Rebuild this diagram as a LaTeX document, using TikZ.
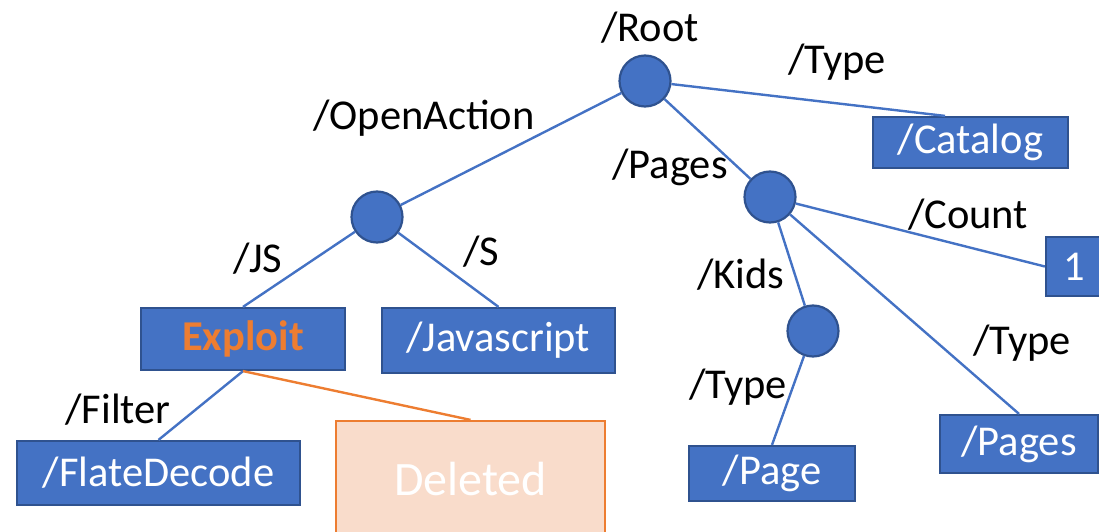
\documentclass[tikz,border=0pt]{standalone}
\usepackage{fontspec}
\setmainfont{Carlito}
\definecolor{nodeblue}{HTML}{4472C4}
\definecolor{edgeblue}{HTML}{2F528F}
\definecolor{warnorange}{HTML}{ED7D31}
\definecolor{deletedfill}{HTML}{F9DCCB}
\begin{document}
\begin{tikzpicture}[x=1pt,y=-1pt,
  font=\fontsize{42.5}{46}\selectfont,
  dict/.style={circle,fill=nodeblue,draw=edgeblue,line width=2.2pt,minimum size=51pt,inner sep=0pt},
  obj/.style={rectangle,fill=nodeblue,draw=edgeblue,line width=2.2pt,text=white,inner sep=0pt},
  link/.style={draw=nodeblue,line width=2.4pt},
  key/.style={text=black,inner sep=0pt}]
\useasboundingbox (0,0) rectangle (1099,532);

% dictionaries
\node[dict] (root) at (645,81) {};
\node[dict] (oa) at (377,217) {};
\node[dict] (pg) at (770,197) {};
\node[dict] (kids) at (813,331) {};

% leaf objects
\node[obj,minimum width=195pt,minimum height=51pt] (catalog) at (970.5,142.5) {/Catalog};
\node[obj,minimum width=204pt,minimum height=62pt] (exploit) at (243,339) {\textcolor{warnorange}{\bfseries Exploit}};
\node[obj,minimum width=233pt,minimum height=65pt] (js) at (498.5,340.5) {/Javascript};
\node[obj,minimum width=283pt,minimum height=64pt] (flate) at (158.5,473) {/FlateDecode};
\node[obj,minimum width=166pt,minimum height=55pt] (page) at (772,473.5) {/Page};
\node[obj,minimum width=158pt,minimum height=58pt] (pages) at (1019,444) {/Pages};
\node[obj,minimum width=56pt,minimum height=59pt] (one) at (1074,266.5) {1};
\node[rectangle,fill=deletedfill,draw=warnorange,line width=2.2pt,
  minimum width=269pt,minimum height=130pt,inner sep=0pt] (deleted) at (470.5,486) {};
\node[text=white,font=\fontsize{48}{52}\selectfont] (deltext) at (470.5,479) {Deleted};

% connectors
\draw[link] (root) -- (oa);
\draw[link] (root) -- (pg);
\draw[link] (root) -- (catalog.north -| 945,0);
\draw[link] (oa) -- (exploit.north);
\draw[link] (oa) -- (js.north);
\draw[link] (exploit.south) -- (flate.north);
\draw[draw=warnorange,line width=2.4pt] (exploit.south) -- (deleted.north);
\draw[link] (pg) -- (one.west);
\draw[link] (pg) -- (kids);
\draw[link] (pg) -- (pages.north);
\draw[link] (kids) -- (page.north);

% key labels
\node[key] (lroot) at (650,28) {/Root};
\node[key] (ltype1) at (837,62) {/Type};
\node[key] (lopen) at (424,118) {/OpenAction};
\node[key] (lpages) at (670,167) {/Pages};
\node[key] (lcount) at (968,215) {/Count};
\node[key] (ljs) at (258,259) {/JS};
\node[key] (ls) at (481,252) {/S};
\node[key] (lkids) at (741,275) {/Kids};
\node[key] (ltype2) at (1022,343) {/Type};
\node[key] (ltype3) at (738,387) {/Type};
\node[key] (lfilter) at (118,410) {/Filter};
\end{tikzpicture}
\end{document}
